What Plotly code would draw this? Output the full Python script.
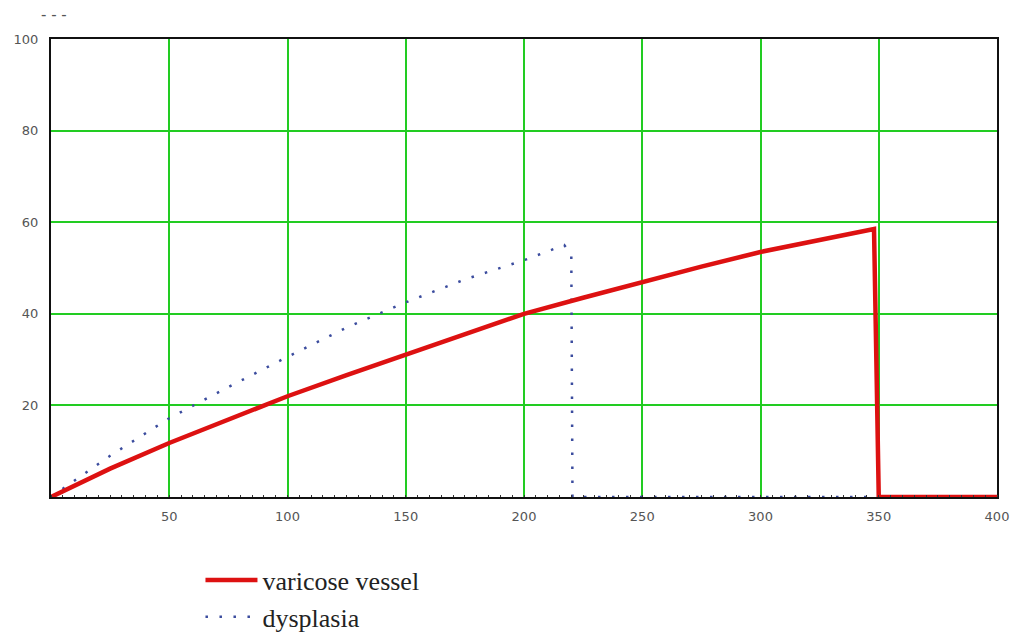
import plotly.graph_objects as go

# Data
varicose_x = [0, 25, 50, 75, 100, 125, 150, 175, 200, 225, 250, 275, 300, 325, 348, 349, 350, 400]
varicose_y = [0, 6.2, 11.8, 17, 22, 26.6, 31, 35.5, 40, 43.5, 47, 50.3, 53.5, 56, 58.5, 29.5, 0, 0]

dysplasia_x = [0, 25, 50, 75, 100, 125, 150, 175, 200, 217, 220, 220.5, 400]
dysplasia_y = [0, 9, 17.2, 24, 30.6, 37, 42.5, 47.5, 51.7, 55, 53, 0, 0]

x_ticks = [50, 100, 150, 200, 250, 300, 350, 400]
y_ticks = [20, 40, 60, 80, 100]

fig = go.Figure()
fig.add_trace(go.Scatter(
    x=dysplasia_x, y=dysplasia_y, mode="lines", name="dysplasia",
    line=dict(color="#3b4c9e", width=2.5, dash="2.5px,11.5px"),
))
fig.add_trace(go.Scatter(
    x=varicose_x, y=varicose_y, mode="lines", name="varicose vessel",
    line=dict(color="#dd1111", width=4.5),
))

axis_common = dict(
    showgrid=True, gridcolor="#22cc22", gridwidth=1.5,
    showline=True, linecolor="#111111", linewidth=2, mirror=True,
    zeroline=False,
    tickfont=dict(family="DejaVu Sans, Verdana, sans-serif", size=13, color="#555555"),
    ticks="",
)

fig.update_xaxes(range=[0, 400], tickvals=x_ticks, ticktext=[str(v) for v in x_ticks],
                 ticklabelstandoff=6,
                 minor=dict(dtick=5, ticks="inside", ticklen=2, tickcolor="#333333", showgrid=False),
                 **axis_common)
fig.update_yaxes(range=[0, 100], tickvals=y_ticks, ticktext=[str(v) for v in y_ticks],
                 ticklabelstandoff=8,
                 **axis_common)

fig.add_annotation(text="- - -", xref="paper", yref="paper", x=0.003, y=1.052,
                   xanchor="center", yanchor="middle", showarrow=False,
                   font=dict(family="DejaVu Sans, Verdana, sans-serif", size=15, color="#555555"))

fig.update_layout(
    width=1019, height=635,
    margin=dict(l=51, r=22, t=39, b=138, autoexpand=False),
    paper_bgcolor="white", plot_bgcolor="white",
    legend=dict(
        x=0.158, y=-0.13, xanchor="left", yanchor="top",
        traceorder="reversed",
        font=dict(family="Liberation Serif, Times New Roman, serif", size=26, color="#222222"),
        bgcolor="rgba(0,0,0,0)", itemwidth=52, tracegroupgap=0,
    ),
    showlegend=True,
)

fig.write_html("out.html")
